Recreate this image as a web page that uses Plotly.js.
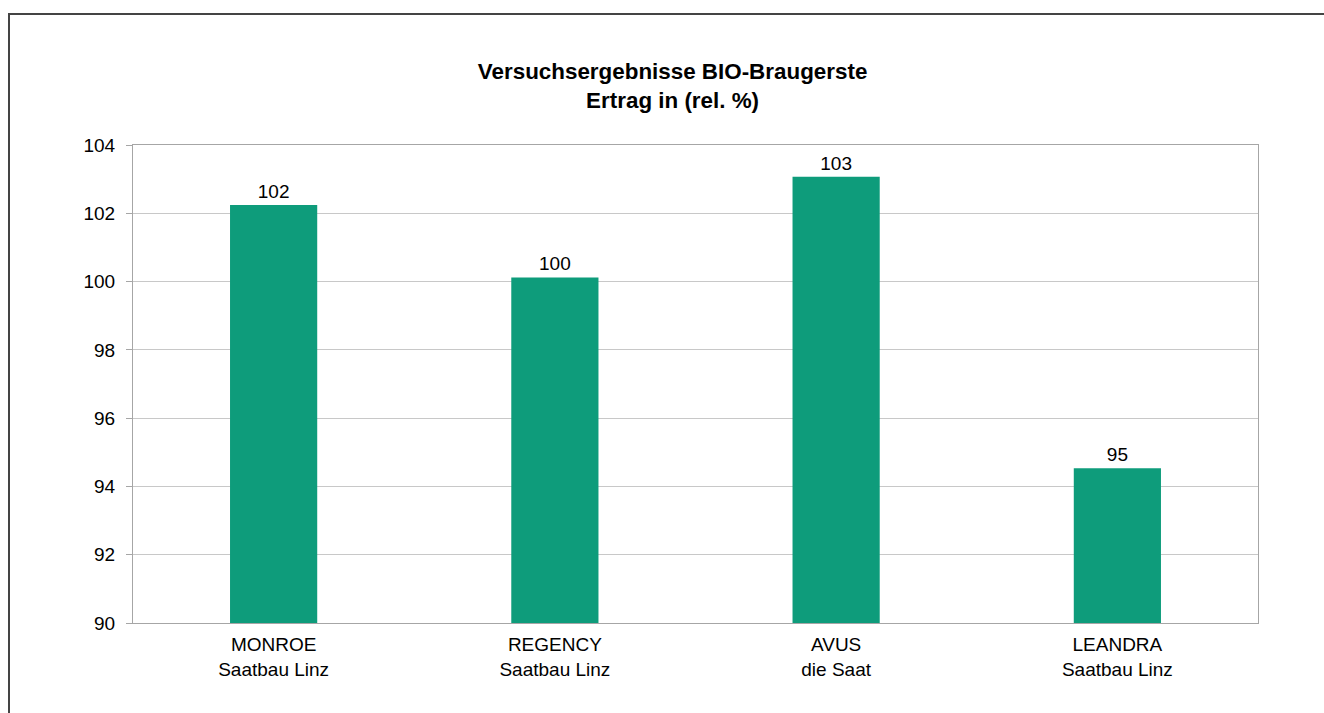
<!DOCTYPE html>
<html>
<head>
<meta charset="utf-8">
<script src="https://cdn.plot.ly/plotly-3.0.1.min.js"></script>
<style>
  html, body { margin: 0; padding: 0; background: #fff; }
  #wrap { position: relative; width: 1324px; height: 713px; }
  #chart { position: absolute; left: 0; top: 0; width: 1324px; height: 713px; }
  #frame { position: absolute; left: 8px; top: 13px; width: 1330px; height: 720px;
           border-top: 2px solid #444; border-left: 2px solid #444; pointer-events: none; }
</style>
</head>
<body>
<div id="wrap">
  <div id="chart"></div>
  <div id="frame"></div>
</div>
<script>
const categories = ["MONROE<br>Saatbau Linz", "REGENCY<br>Saatbau Linz", "AVUS<br>die Saat", "LEANDRA<br>Saatbau Linz"];
const yieldRel = [102.24, 100.12, 103.07, 94.53];
const yTicks = [90, 92, 94, 96, 98, 100, 102, 104];

const trace = {
  type: 'bar',
  x: categories,
  y: yieldRel,
  marker: { color: '#0e9c7b' },
  texttemplate: '%{y:.0f}',
  textposition: 'outside',
  cliponaxis: false,
  textfont: { size: 19, color: '#000', family: 'Liberation Sans, Arial, sans-serif' },
  hoverinfo: 'x+y'
};

const layout = {
  width: 1324, height: 713,
  margin: { l: 133, r: 66, t: 145, b: 90 },
  paper_bgcolor: '#fff', plot_bgcolor: '#fff',
  font: { family: 'Liberation Sans, Arial, sans-serif', size: 19, color: '#000' },
  title: {
    text: '<b>Versuchsergebnisse BIO-Braugerste<br>Ertrag in (rel. %)</b>',
    font: { size: 22.4, color: '#000' },
    x: 0.508, xref: 'container', xanchor: 'center',
    y: 0.889, yref: 'container', yanchor: 'middle'
  },
  bargap: 0.69,
  showlegend: false,
  xaxis: {
    type: 'category',
    showline: true, linecolor: '#a6a6a6', linewidth: 1, mirror: true,
    ticks: '', showgrid: false,
    ticklabelstandoff: 4,
    tickfont: { size: 19, color: '#000' }
  },
  yaxis: {
    range: [90, 104],
    tickvals: yTicks,
    ticktext: yTicks.map(String),
    showline: true, linecolor: '#a6a6a6', linewidth: 1, mirror: true,
    ticks: 'outside', ticklen: 6, tickcolor: '#a6a6a6',
    ticklabelstandoff: 7,
    showgrid: true, gridcolor: '#c8c8c8', gridwidth: 1,
    zeroline: false,
    tickfont: { size: 19, color: '#000' }
  }
};

Plotly.newPlot('chart', [trace], layout, { displayModeBar: false, staticPlot: true });
</script>
</body>
</html>
